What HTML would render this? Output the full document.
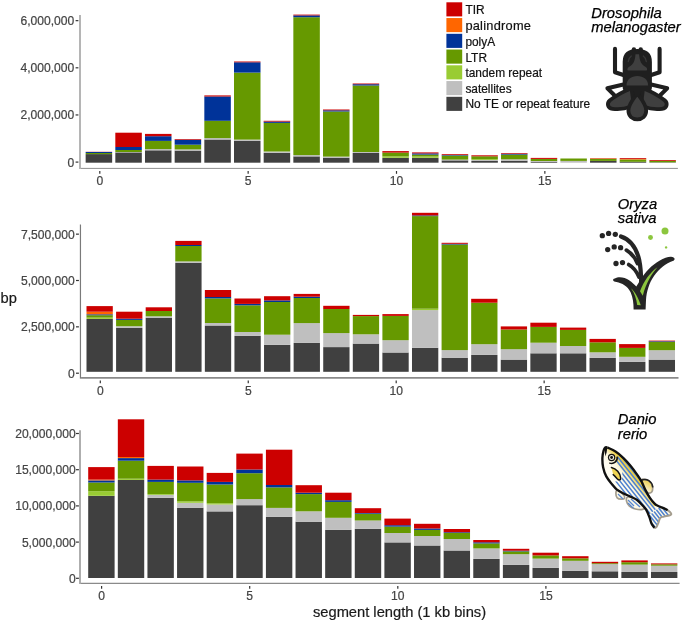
<!DOCTYPE html>
<html><head><meta charset="utf-8"><style>
html,body{margin:0;padding:0;background:#fff;width:685px;height:621px;overflow:hidden}
svg{display:block;will-change:transform}
text{font-family:"Liberation Sans",sans-serif}
.ax{font-size:12.1px;fill:#444;stroke:#444;stroke-width:0.2px}
.lg{font-size:11.9px;fill:#111;stroke:#111;stroke-width:0.2px}
.ti{font-size:14.7px;fill:#1a1a1a;stroke:#1a1a1a;stroke-width:0.2px}
.sp{font-size:14.75px;font-style:italic;fill:#000;stroke:#000;stroke-width:0.25px}
</style></head><body>
<svg width="685" height="621" viewBox="0 0 685 621">
<rect width="685" height="621" fill="#fff"/>
<rect x="85.65" y="154.1" width="26.5" height="8.6" fill="#404040"/>
<rect x="85.65" y="153" width="26.5" height="1.1" fill="#669900"/>
<rect x="85.65" y="152" width="26.5" height="1" fill="#003399"/>
<rect x="85.65" y="151.8" width="26.5" height="0.2" fill="#cc0000"/>
<rect x="115.32" y="152.4" width="26.5" height="10.3" fill="#404040"/>
<rect x="115.32" y="152" width="26.5" height="0.4" fill="#bfbfbf"/>
<rect x="115.32" y="150" width="26.5" height="2" fill="#669900"/>
<rect x="115.32" y="147" width="26.5" height="3" fill="#003399"/>
<rect x="115.32" y="132.7" width="26.5" height="14.3" fill="#cc0000"/>
<rect x="144.99" y="150.3" width="26.5" height="12.4" fill="#404040"/>
<rect x="144.99" y="149.1" width="26.5" height="1.2" fill="#bfbfbf"/>
<rect x="144.99" y="140.9" width="26.5" height="8.2" fill="#669900"/>
<rect x="144.99" y="136.2" width="26.5" height="4.7" fill="#003399"/>
<rect x="144.99" y="133.9" width="26.5" height="2.3" fill="#cc0000"/>
<rect x="174.66" y="150.6" width="26.5" height="12.1" fill="#404040"/>
<rect x="174.66" y="149.4" width="26.5" height="1.2" fill="#bfbfbf"/>
<rect x="174.66" y="144.7" width="26.5" height="4.7" fill="#669900"/>
<rect x="174.66" y="139.8" width="26.5" height="4.9" fill="#003399"/>
<rect x="174.66" y="139.1" width="26.5" height="0.7" fill="#cc0000"/>
<rect x="204.33" y="139.5" width="26.5" height="23.2" fill="#404040"/>
<rect x="204.33" y="138.1" width="26.5" height="1.4" fill="#bfbfbf"/>
<rect x="204.33" y="120.8" width="26.5" height="17.3" fill="#669900"/>
<rect x="204.33" y="96.5" width="26.5" height="24.3" fill="#003399"/>
<rect x="204.33" y="95.4" width="26.5" height="1.1" fill="#cc0000"/>
<rect x="234" y="140.9" width="26.5" height="21.8" fill="#404040"/>
<rect x="234" y="139.6" width="26.5" height="1.3" fill="#bfbfbf"/>
<rect x="234" y="72.6" width="26.5" height="67" fill="#669900"/>
<rect x="234" y="62.3" width="26.5" height="10.3" fill="#003399"/>
<rect x="234" y="61.5" width="26.5" height="0.8" fill="#cc0000"/>
<rect x="263.67" y="152.8" width="26.5" height="9.9" fill="#404040"/>
<rect x="263.67" y="151.5" width="26.5" height="1.3" fill="#bfbfbf"/>
<rect x="263.67" y="122.9" width="26.5" height="28.6" fill="#669900"/>
<rect x="263.67" y="121.6" width="26.5" height="1.3" fill="#003399"/>
<rect x="263.67" y="120.8" width="26.5" height="0.8" fill="#cc0000"/>
<rect x="293.34" y="156.4" width="26.5" height="6.3" fill="#404040"/>
<rect x="293.34" y="155.1" width="26.5" height="1.3" fill="#bfbfbf"/>
<rect x="293.34" y="17.2" width="26.5" height="137.9" fill="#669900"/>
<rect x="293.34" y="15.4" width="26.5" height="1.8" fill="#003399"/>
<rect x="293.34" y="14.6" width="26.5" height="0.8" fill="#cc0000"/>
<rect x="323.01" y="157.7" width="26.5" height="5" fill="#404040"/>
<rect x="323.01" y="156.6" width="26.5" height="1.1" fill="#bfbfbf"/>
<rect x="323.01" y="111.5" width="26.5" height="45.1" fill="#669900"/>
<rect x="323.01" y="110.3" width="26.5" height="1.2" fill="#003399"/>
<rect x="323.01" y="109.5" width="26.5" height="0.8" fill="#cc0000"/>
<rect x="352.68" y="153" width="26.5" height="9.7" fill="#404040"/>
<rect x="352.68" y="152" width="26.5" height="1" fill="#bfbfbf"/>
<rect x="352.68" y="85.5" width="26.5" height="66.5" fill="#669900"/>
<rect x="352.68" y="84.2" width="26.5" height="1.3" fill="#003399"/>
<rect x="352.68" y="83.5" width="26.5" height="0.7" fill="#cc0000"/>
<rect x="382.35" y="157.8" width="26.5" height="4.9" fill="#404040"/>
<rect x="382.35" y="156.4" width="26.5" height="1.4" fill="#99cc33"/>
<rect x="382.35" y="152.6" width="26.5" height="3.8" fill="#669900"/>
<rect x="382.35" y="151.1" width="26.5" height="1.5" fill="#cc0000"/>
<rect x="412.02" y="157.8" width="26.5" height="4.9" fill="#404040"/>
<rect x="412.02" y="156.5" width="26.5" height="1.3" fill="#99cc33"/>
<rect x="412.02" y="154.6" width="26.5" height="1.9" fill="#669900"/>
<rect x="412.02" y="153.4" width="26.5" height="1.2" fill="#003399"/>
<rect x="412.02" y="152.4" width="26.5" height="1" fill="#cc0000"/>
<rect x="441.69" y="160.4" width="26.5" height="2.3" fill="#404040"/>
<rect x="441.69" y="159.6" width="26.5" height="0.8" fill="#bfbfbf"/>
<rect x="441.69" y="155.5" width="26.5" height="4.1" fill="#669900"/>
<rect x="441.69" y="155" width="26.5" height="0.5" fill="#003399"/>
<rect x="441.69" y="154.2" width="26.5" height="0.8" fill="#cc0000"/>
<rect x="471.36" y="161" width="26.5" height="1.7" fill="#404040"/>
<rect x="471.36" y="160" width="26.5" height="1" fill="#bfbfbf"/>
<rect x="471.36" y="159.2" width="26.5" height="0.8" fill="#99cc33"/>
<rect x="471.36" y="156.3" width="26.5" height="2.9" fill="#669900"/>
<rect x="471.36" y="155.3" width="26.5" height="1" fill="#cc0000"/>
<rect x="501.03" y="160.7" width="26.5" height="2" fill="#404040"/>
<rect x="501.03" y="159.3" width="26.5" height="1.4" fill="#bfbfbf"/>
<rect x="501.03" y="154.6" width="26.5" height="4.7" fill="#669900"/>
<rect x="501.03" y="153.8" width="26.5" height="0.8" fill="#003399"/>
<rect x="501.03" y="153.1" width="26.5" height="0.7" fill="#cc0000"/>
<rect x="530.7" y="161.7" width="26.5" height="1" fill="#404040"/>
<rect x="530.7" y="161" width="26.5" height="0.7" fill="#bfbfbf"/>
<rect x="530.7" y="158.9" width="26.5" height="2.1" fill="#669900"/>
<rect x="530.7" y="157.9" width="26.5" height="1" fill="#cc0000"/>
<rect x="560.37" y="160.9" width="26.5" height="1.8" fill="#bfbfbf"/>
<rect x="560.37" y="158.5" width="26.5" height="2.4" fill="#669900"/>
<rect x="590.04" y="160.9" width="26.5" height="1.8" fill="#404040"/>
<rect x="590.04" y="158.8" width="26.5" height="2.1" fill="#669900"/>
<rect x="590.04" y="158.4" width="26.5" height="0.4" fill="#ff6600"/>
<rect x="590.04" y="158.1" width="26.5" height="0.3" fill="#cc0000"/>
<rect x="619.71" y="161.8" width="26.5" height="0.9" fill="#404040"/>
<rect x="619.71" y="159.5" width="26.5" height="2.3" fill="#669900"/>
<rect x="619.71" y="158.8" width="26.5" height="0.7" fill="#ff6600"/>
<rect x="619.71" y="158" width="26.5" height="0.8" fill="#cc0000"/>
<rect x="649.38" y="162.3" width="26.5" height="0.4" fill="#404040"/>
<rect x="649.38" y="160.9" width="26.5" height="1.4" fill="#669900"/>
<rect x="649.38" y="160.1" width="26.5" height="0.8" fill="#cc0000"/>
<rect x="86.5" y="318.9" width="26.3" height="52.9" fill="#404040"/>
<rect x="86.5" y="317.6" width="26.3" height="1.3" fill="#99cc33"/>
<rect x="86.5" y="315.2" width="26.3" height="2.4" fill="#669900"/>
<rect x="86.5" y="314.3" width="26.3" height="0.9" fill="#003399"/>
<rect x="86.5" y="311.7" width="26.3" height="2.6" fill="#ff6600"/>
<rect x="86.5" y="306.1" width="26.3" height="5.6" fill="#cc0000"/>
<rect x="116.09" y="327.9" width="26.3" height="43.9" fill="#404040"/>
<rect x="116.09" y="326.2" width="26.3" height="1.7" fill="#bfbfbf"/>
<rect x="116.09" y="319.9" width="26.3" height="6.3" fill="#669900"/>
<rect x="116.09" y="318.7" width="26.3" height="1.2" fill="#003399"/>
<rect x="116.09" y="311.7" width="26.3" height="7" fill="#cc0000"/>
<rect x="145.68" y="317.7" width="26.3" height="54.1" fill="#404040"/>
<rect x="145.68" y="316.3" width="26.3" height="1.4" fill="#bfbfbf"/>
<rect x="145.68" y="311" width="26.3" height="5.3" fill="#669900"/>
<rect x="145.68" y="307.3" width="26.3" height="3.7" fill="#cc0000"/>
<rect x="175.27" y="262.9" width="26.3" height="108.9" fill="#404040"/>
<rect x="175.27" y="261.4" width="26.3" height="1.5" fill="#bfbfbf"/>
<rect x="175.27" y="246" width="26.3" height="15.4" fill="#669900"/>
<rect x="175.27" y="245" width="26.3" height="1" fill="#003399"/>
<rect x="175.27" y="240.9" width="26.3" height="4.1" fill="#cc0000"/>
<rect x="204.86" y="325.5" width="26.3" height="46.3" fill="#404040"/>
<rect x="204.86" y="323" width="26.3" height="2.5" fill="#bfbfbf"/>
<rect x="204.86" y="298.4" width="26.3" height="24.6" fill="#669900"/>
<rect x="204.86" y="297" width="26.3" height="1.4" fill="#003399"/>
<rect x="204.86" y="290" width="26.3" height="7" fill="#cc0000"/>
<rect x="234.45" y="335.9" width="26.3" height="35.9" fill="#404040"/>
<rect x="234.45" y="332" width="26.3" height="3.9" fill="#bfbfbf"/>
<rect x="234.45" y="305.3" width="26.3" height="26.7" fill="#669900"/>
<rect x="234.45" y="303.9" width="26.3" height="1.4" fill="#003399"/>
<rect x="234.45" y="298.5" width="26.3" height="5.4" fill="#cc0000"/>
<rect x="264.04" y="344.8" width="26.3" height="27" fill="#404040"/>
<rect x="264.04" y="334.7" width="26.3" height="10.1" fill="#bfbfbf"/>
<rect x="264.04" y="302" width="26.3" height="32.7" fill="#669900"/>
<rect x="264.04" y="300.4" width="26.3" height="1.6" fill="#003399"/>
<rect x="264.04" y="296.2" width="26.3" height="4.2" fill="#cc0000"/>
<rect x="293.63" y="342.9" width="26.3" height="28.9" fill="#404040"/>
<rect x="293.63" y="323.1" width="26.3" height="19.8" fill="#bfbfbf"/>
<rect x="293.63" y="298" width="26.3" height="25.1" fill="#669900"/>
<rect x="293.63" y="296.7" width="26.3" height="1.3" fill="#003399"/>
<rect x="293.63" y="293.9" width="26.3" height="2.8" fill="#cc0000"/>
<rect x="323.22" y="347.1" width="26.3" height="24.7" fill="#404040"/>
<rect x="323.22" y="333.1" width="26.3" height="14" fill="#bfbfbf"/>
<rect x="323.22" y="309" width="26.3" height="24.1" fill="#669900"/>
<rect x="323.22" y="305.8" width="26.3" height="3.2" fill="#cc0000"/>
<rect x="352.81" y="343.6" width="26.3" height="28.2" fill="#404040"/>
<rect x="352.81" y="334.3" width="26.3" height="9.3" fill="#bfbfbf"/>
<rect x="352.81" y="316.1" width="26.3" height="18.2" fill="#669900"/>
<rect x="352.81" y="314.9" width="26.3" height="1.2" fill="#cc0000"/>
<rect x="382.4" y="352.5" width="26.3" height="19.3" fill="#404040"/>
<rect x="382.4" y="340.2" width="26.3" height="12.3" fill="#bfbfbf"/>
<rect x="382.4" y="315.9" width="26.3" height="24.3" fill="#669900"/>
<rect x="382.4" y="314.1" width="26.3" height="1.8" fill="#cc0000"/>
<rect x="411.99" y="347.8" width="26.3" height="24" fill="#404040"/>
<rect x="411.99" y="310.1" width="26.3" height="37.7" fill="#bfbfbf"/>
<rect x="411.99" y="308.7" width="26.3" height="1.4" fill="#99cc33"/>
<rect x="411.99" y="216.1" width="26.3" height="92.6" fill="#669900"/>
<rect x="411.99" y="215.4" width="26.3" height="0.7" fill="#003399"/>
<rect x="411.99" y="212.8" width="26.3" height="2.6" fill="#cc0000"/>
<rect x="441.58" y="357.7" width="26.3" height="14.1" fill="#404040"/>
<rect x="441.58" y="350.1" width="26.3" height="7.6" fill="#bfbfbf"/>
<rect x="441.58" y="244.5" width="26.3" height="105.6" fill="#669900"/>
<rect x="441.58" y="243.8" width="26.3" height="0.7" fill="#003399"/>
<rect x="441.58" y="242.8" width="26.3" height="1" fill="#cc0000"/>
<rect x="471.17" y="354.9" width="26.3" height="16.9" fill="#404040"/>
<rect x="471.17" y="344.2" width="26.3" height="10.7" fill="#bfbfbf"/>
<rect x="471.17" y="302.7" width="26.3" height="41.5" fill="#669900"/>
<rect x="471.17" y="298.8" width="26.3" height="3.9" fill="#cc0000"/>
<rect x="500.76" y="359.6" width="26.3" height="12.2" fill="#404040"/>
<rect x="500.76" y="349.2" width="26.3" height="10.4" fill="#bfbfbf"/>
<rect x="500.76" y="329.5" width="26.3" height="19.7" fill="#669900"/>
<rect x="500.76" y="326.4" width="26.3" height="3.1" fill="#cc0000"/>
<rect x="530.35" y="353.3" width="26.3" height="18.5" fill="#404040"/>
<rect x="530.35" y="342.7" width="26.3" height="10.6" fill="#bfbfbf"/>
<rect x="530.35" y="326.9" width="26.3" height="15.8" fill="#669900"/>
<rect x="530.35" y="322.7" width="26.3" height="4.2" fill="#cc0000"/>
<rect x="559.94" y="353.3" width="26.3" height="18.5" fill="#404040"/>
<rect x="559.94" y="346" width="26.3" height="7.3" fill="#bfbfbf"/>
<rect x="559.94" y="329.9" width="26.3" height="16.1" fill="#669900"/>
<rect x="559.94" y="327.6" width="26.3" height="2.3" fill="#cc0000"/>
<rect x="589.53" y="357.9" width="26.3" height="13.9" fill="#404040"/>
<rect x="589.53" y="352.3" width="26.3" height="5.6" fill="#bfbfbf"/>
<rect x="589.53" y="342.3" width="26.3" height="10" fill="#669900"/>
<rect x="589.53" y="338.9" width="26.3" height="3.4" fill="#cc0000"/>
<rect x="619.12" y="361.9" width="26.3" height="9.9" fill="#404040"/>
<rect x="619.12" y="356.8" width="26.3" height="5.1" fill="#bfbfbf"/>
<rect x="619.12" y="347.9" width="26.3" height="8.9" fill="#669900"/>
<rect x="619.12" y="344.1" width="26.3" height="3.8" fill="#cc0000"/>
<rect x="648.71" y="359.6" width="26.3" height="12.2" fill="#404040"/>
<rect x="648.71" y="350.2" width="26.3" height="9.4" fill="#bfbfbf"/>
<rect x="648.71" y="341.8" width="26.3" height="8.4" fill="#669900"/>
<rect x="648.71" y="341.2" width="26.3" height="0.6" fill="#003399"/>
<rect x="648.71" y="340.6" width="26.3" height="0.6" fill="#cc0000"/>
<rect x="88.2" y="495.8" width="26.4" height="82.2" fill="#404040"/>
<rect x="88.2" y="491.2" width="26.4" height="4.6" fill="#99cc33"/>
<rect x="88.2" y="482.5" width="26.4" height="8.7" fill="#669900"/>
<rect x="88.2" y="480.4" width="26.4" height="2.1" fill="#003399"/>
<rect x="88.2" y="479.6" width="26.4" height="0.8" fill="#ff6600"/>
<rect x="88.2" y="467.1" width="26.4" height="12.5" fill="#cc0000"/>
<rect x="117.82" y="479.9" width="26.4" height="98.1" fill="#404040"/>
<rect x="117.82" y="478.7" width="26.4" height="1.2" fill="#99cc33"/>
<rect x="117.82" y="460.7" width="26.4" height="18" fill="#669900"/>
<rect x="117.82" y="458.1" width="26.4" height="2.6" fill="#003399"/>
<rect x="117.82" y="457" width="26.4" height="1.1" fill="#ff6600"/>
<rect x="117.82" y="419.3" width="26.4" height="37.7" fill="#cc0000"/>
<rect x="147.44" y="497.8" width="26.4" height="80.2" fill="#404040"/>
<rect x="147.44" y="494.9" width="26.4" height="2.9" fill="#bfbfbf"/>
<rect x="147.44" y="494.1" width="26.4" height="0.8" fill="#99cc33"/>
<rect x="147.44" y="481.9" width="26.4" height="12.2" fill="#669900"/>
<rect x="147.44" y="479.6" width="26.4" height="2.3" fill="#003399"/>
<rect x="147.44" y="465.9" width="26.4" height="13.7" fill="#cc0000"/>
<rect x="177.06" y="507.7" width="26.4" height="70.3" fill="#404040"/>
<rect x="177.06" y="502.8" width="26.4" height="4.9" fill="#bfbfbf"/>
<rect x="177.06" y="501.3" width="26.4" height="1.5" fill="#99cc33"/>
<rect x="177.06" y="482.8" width="26.4" height="18.5" fill="#669900"/>
<rect x="177.06" y="480.4" width="26.4" height="2.4" fill="#003399"/>
<rect x="177.06" y="466.5" width="26.4" height="13.9" fill="#cc0000"/>
<rect x="206.68" y="511.4" width="26.4" height="66.6" fill="#404040"/>
<rect x="206.68" y="504.5" width="26.4" height="6.9" fill="#bfbfbf"/>
<rect x="206.68" y="503.3" width="26.4" height="1.2" fill="#99cc33"/>
<rect x="206.68" y="484.5" width="26.4" height="18.8" fill="#669900"/>
<rect x="206.68" y="481.9" width="26.4" height="2.6" fill="#003399"/>
<rect x="206.68" y="472.9" width="26.4" height="9" fill="#cc0000"/>
<rect x="236.3" y="505.2" width="26.4" height="72.8" fill="#404040"/>
<rect x="236.3" y="499.1" width="26.4" height="6.1" fill="#bfbfbf"/>
<rect x="236.3" y="473.2" width="26.4" height="25.9" fill="#669900"/>
<rect x="236.3" y="469.5" width="26.4" height="3.7" fill="#003399"/>
<rect x="236.3" y="453.6" width="26.4" height="15.9" fill="#cc0000"/>
<rect x="265.92" y="516.9" width="26.4" height="61.1" fill="#404040"/>
<rect x="265.92" y="507.9" width="26.4" height="9" fill="#bfbfbf"/>
<rect x="265.92" y="487.4" width="26.4" height="20.5" fill="#669900"/>
<rect x="265.92" y="485" width="26.4" height="2.4" fill="#003399"/>
<rect x="265.92" y="449.7" width="26.4" height="35.3" fill="#cc0000"/>
<rect x="295.54" y="521.7" width="26.4" height="56.3" fill="#404040"/>
<rect x="295.54" y="511.3" width="26.4" height="10.4" fill="#bfbfbf"/>
<rect x="295.54" y="494.1" width="26.4" height="17.2" fill="#669900"/>
<rect x="295.54" y="492.7" width="26.4" height="1.4" fill="#003399"/>
<rect x="295.54" y="485.2" width="26.4" height="7.5" fill="#cc0000"/>
<rect x="325.16" y="529.9" width="26.4" height="48.1" fill="#404040"/>
<rect x="325.16" y="517.8" width="26.4" height="12.1" fill="#bfbfbf"/>
<rect x="325.16" y="501.9" width="26.4" height="15.9" fill="#669900"/>
<rect x="325.16" y="500.2" width="26.4" height="1.7" fill="#003399"/>
<rect x="325.16" y="492.7" width="26.4" height="7.5" fill="#cc0000"/>
<rect x="354.78" y="528.9" width="26.4" height="49.1" fill="#404040"/>
<rect x="354.78" y="520.5" width="26.4" height="8.4" fill="#bfbfbf"/>
<rect x="354.78" y="513.7" width="26.4" height="6.8" fill="#669900"/>
<rect x="354.78" y="513" width="26.4" height="0.7" fill="#003399"/>
<rect x="354.78" y="508.2" width="26.4" height="4.8" fill="#cc0000"/>
<rect x="384.4" y="542.4" width="26.4" height="35.6" fill="#404040"/>
<rect x="384.4" y="533" width="26.4" height="9.4" fill="#bfbfbf"/>
<rect x="384.4" y="526.6" width="26.4" height="6.4" fill="#669900"/>
<rect x="384.4" y="525.2" width="26.4" height="1.4" fill="#003399"/>
<rect x="384.4" y="518.6" width="26.4" height="6.6" fill="#cc0000"/>
<rect x="414.02" y="545.5" width="26.4" height="32.5" fill="#404040"/>
<rect x="414.02" y="536" width="26.4" height="9.5" fill="#bfbfbf"/>
<rect x="414.02" y="529.9" width="26.4" height="6.1" fill="#669900"/>
<rect x="414.02" y="528.5" width="26.4" height="1.4" fill="#003399"/>
<rect x="414.02" y="523.8" width="26.4" height="4.7" fill="#cc0000"/>
<rect x="443.64" y="550.5" width="26.4" height="27.5" fill="#404040"/>
<rect x="443.64" y="539" width="26.4" height="11.5" fill="#bfbfbf"/>
<rect x="443.64" y="532.9" width="26.4" height="6.1" fill="#669900"/>
<rect x="443.64" y="532.2" width="26.4" height="0.7" fill="#003399"/>
<rect x="443.64" y="529" width="26.4" height="3.2" fill="#cc0000"/>
<rect x="473.26" y="558.9" width="26.4" height="19.1" fill="#404040"/>
<rect x="473.26" y="548.4" width="26.4" height="10.5" fill="#bfbfbf"/>
<rect x="473.26" y="543.4" width="26.4" height="5" fill="#669900"/>
<rect x="473.26" y="542.3" width="26.4" height="1.1" fill="#003399"/>
<rect x="473.26" y="540" width="26.4" height="2.3" fill="#cc0000"/>
<rect x="502.88" y="564.9" width="26.4" height="13.1" fill="#404040"/>
<rect x="502.88" y="554.2" width="26.4" height="10.7" fill="#bfbfbf"/>
<rect x="502.88" y="551.4" width="26.4" height="2.8" fill="#669900"/>
<rect x="502.88" y="550.7" width="26.4" height="0.7" fill="#003399"/>
<rect x="502.88" y="548.8" width="26.4" height="1.9" fill="#cc0000"/>
<rect x="532.5" y="567.8" width="26.4" height="10.2" fill="#404040"/>
<rect x="532.5" y="558.6" width="26.4" height="9.2" fill="#bfbfbf"/>
<rect x="532.5" y="555.4" width="26.4" height="3.2" fill="#669900"/>
<rect x="532.5" y="552.7" width="26.4" height="2.7" fill="#cc0000"/>
<rect x="562.12" y="570.9" width="26.4" height="7.1" fill="#404040"/>
<rect x="562.12" y="560.8" width="26.4" height="10.1" fill="#bfbfbf"/>
<rect x="562.12" y="558.3" width="26.4" height="2.5" fill="#669900"/>
<rect x="562.12" y="556.2" width="26.4" height="2.1" fill="#cc0000"/>
<rect x="591.74" y="571.3" width="26.4" height="6.7" fill="#404040"/>
<rect x="591.74" y="564.1" width="26.4" height="7.2" fill="#bfbfbf"/>
<rect x="591.74" y="563.2" width="26.4" height="0.9" fill="#669900"/>
<rect x="591.74" y="561.8" width="26.4" height="1.4" fill="#cc0000"/>
<rect x="621.36" y="572" width="26.4" height="6" fill="#404040"/>
<rect x="621.36" y="564.6" width="26.4" height="7.4" fill="#bfbfbf"/>
<rect x="621.36" y="562.2" width="26.4" height="2.4" fill="#669900"/>
<rect x="621.36" y="560.4" width="26.4" height="1.8" fill="#cc0000"/>
<rect x="650.98" y="572" width="26.4" height="6" fill="#404040"/>
<rect x="650.98" y="565.7" width="26.4" height="6.3" fill="#bfbfbf"/>
<rect x="650.98" y="564.3" width="26.4" height="1.4" fill="#669900"/>
<rect x="650.98" y="563.4" width="26.4" height="0.9" fill="#cc0000"/>
<line x1="80" y1="15" x2="80" y2="168.9" stroke="#b2b2b2" stroke-width="1.9"/>
<line x1="80.95" y1="168.4" x2="677.9" y2="168.4" stroke="#8e8e8e" stroke-width="1"/>
<line x1="75.6" y1="162.1" x2="78.4" y2="162.1" stroke="#333" stroke-width="1.2"/>
<text x="74.3" y="166.5" text-anchor="end" class="ax">0</text>
<line x1="75.6" y1="114.95" x2="78.4" y2="114.95" stroke="#333" stroke-width="1.2"/>
<text x="74.3" y="119.35" text-anchor="end" class="ax">2,000,000</text>
<line x1="75.6" y1="67.8" x2="78.4" y2="67.8" stroke="#333" stroke-width="1.2"/>
<text x="74.3" y="72.2" text-anchor="end" class="ax">4,000,000</text>
<line x1="75.6" y1="20.65" x2="78.4" y2="20.65" stroke="#333" stroke-width="1.2"/>
<text x="74.3" y="25.05" text-anchor="end" class="ax">6,000,000</text>
<line x1="99.8" y1="171" x2="99.8" y2="173.8" stroke="#333" stroke-width="1.2"/>
<text x="99.8" y="185.1" text-anchor="middle" class="ax">0</text>
<line x1="248.15" y1="171" x2="248.15" y2="173.8" stroke="#333" stroke-width="1.2"/>
<text x="248.15" y="185.1" text-anchor="middle" class="ax">5</text>
<line x1="396.5" y1="171" x2="396.5" y2="173.8" stroke="#333" stroke-width="1.2"/>
<text x="396.5" y="185.1" text-anchor="middle" class="ax">10</text>
<line x1="544.85" y1="171" x2="544.85" y2="173.8" stroke="#333" stroke-width="1.2"/>
<text x="544.85" y="185.1" text-anchor="middle" class="ax">15</text>
<line x1="80.45" y1="224.5" x2="80.45" y2="378.65" stroke="#7a7a7a" stroke-width="1.2"/>
<line x1="81.05" y1="377.85" x2="678.5" y2="377.85" stroke="#8a8a8a" stroke-width="1.6"/>
<line x1="76" y1="373.2" x2="78.9" y2="373.2" stroke="#333" stroke-width="1.2"/>
<text x="74.8" y="377.6" text-anchor="end" class="ax">0</text>
<line x1="76" y1="326.85" x2="78.9" y2="326.85" stroke="#333" stroke-width="1.2"/>
<text x="74.8" y="331.25" text-anchor="end" class="ax">2,500,000</text>
<line x1="76" y1="280.5" x2="78.9" y2="280.5" stroke="#333" stroke-width="1.2"/>
<text x="74.8" y="284.9" text-anchor="end" class="ax">5,000,000</text>
<line x1="76" y1="234.15" x2="78.9" y2="234.15" stroke="#333" stroke-width="1.2"/>
<text x="74.8" y="238.55" text-anchor="end" class="ax">7,500,000</text>
<line x1="100.3" y1="380.45" x2="100.3" y2="383.25" stroke="#333" stroke-width="1.2"/>
<text x="100.3" y="394.55" text-anchor="middle" class="ax">0</text>
<line x1="248.25" y1="380.45" x2="248.25" y2="383.25" stroke="#333" stroke-width="1.2"/>
<text x="248.25" y="394.55" text-anchor="middle" class="ax">5</text>
<line x1="396.2" y1="380.45" x2="396.2" y2="383.25" stroke="#333" stroke-width="1.2"/>
<text x="396.2" y="394.55" text-anchor="middle" class="ax">10</text>
<line x1="544.15" y1="380.45" x2="544.15" y2="383.25" stroke="#333" stroke-width="1.2"/>
<text x="544.15" y="394.55" text-anchor="middle" class="ax">15</text>
<line x1="80" y1="430.3" x2="80" y2="584.1" stroke="#9a9a9a" stroke-width="1.6"/>
<line x1="80.8" y1="583.4" x2="679.6" y2="583.4" stroke="#8a8a8a" stroke-width="1.4"/>
<line x1="76" y1="578.3" x2="78.9" y2="578.3" stroke="#333" stroke-width="1.2"/>
<text x="75.7" y="582.7" text-anchor="end" class="ax">0</text>
<line x1="76" y1="542.1" x2="78.9" y2="542.1" stroke="#333" stroke-width="1.2"/>
<text x="75.7" y="546.5" text-anchor="end" class="ax">5,000,000</text>
<line x1="76" y1="505.9" x2="78.9" y2="505.9" stroke="#333" stroke-width="1.2"/>
<text x="75.7" y="510.3" text-anchor="end" class="ax">10,000,000</text>
<line x1="76" y1="469.7" x2="78.9" y2="469.7" stroke="#333" stroke-width="1.2"/>
<text x="75.7" y="474.1" text-anchor="end" class="ax">15,000,000</text>
<line x1="76" y1="433.5" x2="78.9" y2="433.5" stroke="#333" stroke-width="1.2"/>
<text x="75.7" y="437.9" text-anchor="end" class="ax">20,000,000</text>
<line x1="101.6" y1="586" x2="101.6" y2="588.8" stroke="#333" stroke-width="1.2"/>
<text x="101.6" y="600.1" text-anchor="middle" class="ax">0</text>
<line x1="249.7" y1="586" x2="249.7" y2="588.8" stroke="#333" stroke-width="1.2"/>
<text x="249.7" y="600.1" text-anchor="middle" class="ax">5</text>
<line x1="397.8" y1="586" x2="397.8" y2="588.8" stroke="#333" stroke-width="1.2"/>
<text x="397.8" y="600.1" text-anchor="middle" class="ax">10</text>
<line x1="545.9" y1="586" x2="545.9" y2="588.8" stroke="#333" stroke-width="1.2"/>
<text x="545.9" y="600.1" text-anchor="middle" class="ax">15</text>
<rect x="446.4" y="2.3" width="15.8" height="14.1" fill="#cc0000"/>
<text x="465.4" y="14.4" class="lg">TIR</text>
<rect x="446.4" y="18.05" width="15.8" height="14.1" fill="#ff6600"/>
<text x="465.4" y="30.15" class="lg" style="font-size:12.8px;letter-spacing:0.25px">palindrome</text>
<rect x="446.4" y="33.8" width="15.8" height="14.1" fill="#003399"/>
<text x="465.4" y="45.9" class="lg">polyA</text>
<rect x="446.4" y="49.55" width="15.8" height="14.1" fill="#669900"/>
<text x="465.4" y="61.65" class="lg">LTR</text>
<rect x="446.4" y="65.3" width="15.8" height="14.1" fill="#99cc33"/>
<text x="465.4" y="77.4" class="lg">tandem repeat</text>
<rect x="446.4" y="81.05" width="15.8" height="14.1" fill="#bfbfbf"/>
<text x="465.4" y="93.15" class="lg">satellites</text>
<rect x="446.4" y="96.8" width="15.8" height="14.1" fill="#404040"/>
<text x="465.4" y="107.9" class="lg">No TE or repeat feature</text>
<text x="0.6" y="302.7" class="ti">bp</text>
<text x="399.5" y="616.6" text-anchor="middle" class="ti">segment length (1 kb bins)</text>
<text x="591.3" y="17.9" class="sp">Drosophila</text>
<text x="591.3" y="32.1" class="sp">melanogaster</text>
<text x="617.8" y="208.9" class="sp">Oryza</text>
<text x="617.8" y="222.8" class="sp">sativa</text>
<text x="617.8" y="424.4" class="sp">Danio</text>
<text x="617.8" y="438.5" class="sp">rerio</text>
<g stroke="#1f1f1f" stroke-linecap="round" stroke-linejoin="round">
<polyline points="615,48.9 615,72.2 625,75.5" fill="none" stroke-width="4.1"/>
<polyline points="659.6,48.9 659.6,72.2 649.6,75.5" fill="none" stroke-width="4.1"/>
<polyline points="624.5,84.2 607.4,88.3 614.2,95" fill="none" stroke-width="4"/>
<polyline points="650.1,84.2 667.2,88.3 660.4,95" fill="none" stroke-width="4"/>
<path d="M626,86 L648.6,86 L643.5,101 L631.1,101 Z" fill="#1f1f1f" stroke="none"/>
<path d="M631.5,88.3 C624,91.3 615,96.3 610,100.3 C606.5,103.3 607.5,108.2 612.5,108.8 C619,109.6 626,108.5 630.5,106.8 C632.5,105.8 633,103 633,100 Z" fill="#3f3f3f" stroke-width="3.8"/>
<path d="M643.1,88.3 C650.6,91.3 659.6,96.3 664.6,100.3 C668.1,103.3 667.1,108.2 662.1,108.8 C655.6,109.6 648.6,108.5 644.1,106.8 C642.1,105.8 641.6,103 641.6,100 Z" fill="#3f3f3f" stroke-width="3.8"/>
<path d="M637.3,93.6 C634,98 628.4,104.5 628.4,110.6 C628.4,116.2 632.5,119.3 637.3,119.3 C642.1,119.3 646.2,116.2 646.2,110.6 C646.2,104.5 640.6,98 637.3,93.6 Z" fill="#3f3f3f" stroke-width="3.8"/>
<path d="M622.7,74 L622.7,62 C622.7,53 628,49.1 637.3,49.1 C646.6,49.1 651.9,53 651.9,62 L651.9,87.5 Q651.9,91 648.5,91 L626.1,91 Q622.7,91 622.7,87.5 Z" fill="#1f1f1f" stroke="none"/>
<path d="M633.5,91 L641.1,91 L639.5,96.5 L635.1,96.5 Z" fill="#1f1f1f" stroke="none"/>
<circle cx="633.9" cy="49.5" r="2.2" fill="#1f1f1f" stroke="none"/>
<circle cx="640.7" cy="49.5" r="2.2" fill="#1f1f1f" stroke="none"/>
<path d="M635.5,54.3 L639.1,54.3 C639.6,61 641.2,64.5 645.3,66.8 C647.5,68 647.8,70.6 645.8,70.6 L628.8,70.6 C626.8,70.6 627.1,68 629.3,66.8 C633.4,64.5 635,61 635.5,54.3 Z" fill="#3f3f3f" stroke="none"/>
<path d="M626.5,85.6 C626.5,79.5 631.2,76.1 637.3,76.1 C643.4,76.1 648.1,79.5 648.1,85.6 Z" fill="#3f3f3f" stroke="none"/>
<path d="M628.3,61.5 Q629,57.5 631.3,56" fill="none" stroke="#383838" stroke-width="1.3"/>
<path d="M646.3,61.5 Q645.6,57.5 643.3,56" fill="none" stroke="#383838" stroke-width="1.3"/>
</g>

<g>
<g fill="#252525">
<circle cx="602.3" cy="235.7" r="2.65"/><circle cx="608.6" cy="233.4" r="2.65"/><circle cx="615.3" cy="234.3" r="2.65"/>
<circle cx="607.7" cy="249.6" r="2.65"/><circle cx="614.2" cy="246.9" r="2.65"/><circle cx="620.6" cy="247.7" r="2.65"/>
<circle cx="616" cy="263.5" r="2.65"/><circle cx="622.5" cy="262.6" r="2.65"/>
<path d="M614.8,278.5 C619,276 625,277.5 629.1,280.3 C632,282.5 634.5,284.5 636.3,286.5 L640.5,279.7 C645,272 652,265 659.4,260.7 C664,258 668,256.7 671,256.8 C675.5,257 675.5,260.5 672.7,261 C666,263.5 659.5,268 654,276 C649,283 646.5,292 646,300 L645.6,309.6 L633.6,309.6 C633.6,303 633,297.5 630.5,292 C627.5,286 622,283.2 616.5,282 C613,281.6 611.8,279.3 614.8,278.5 Z"/>
</g>
<g fill="none" stroke="#252525" stroke-linecap="round">
<path d="M621,236.4 C630,239.5 636.5,248 639.2,260 C641,269 641.5,278 641,290" stroke-width="4.2"/>
<path d="M626.4,250.2 C631,253 635,257 637.5,263.5" stroke-width="3.8"/>
<path d="M628.7,264.6 C633,267 636.5,271 639,277" stroke-width="3.8"/>
</g>
<g fill="#8cc63e">
<path d="M631,288.2 C634.5,291 638,297 640.8,305.3 L637.2,305 C636.5,299 634.5,293 631,288.2 Z"/>
<path d="M657.5,267.3 C652,273.5 646,283 642.8,295.8 L640,291.2 C644,281 650,272.5 657.5,267.3 Z"/>
<circle cx="665" cy="230.9" r="3.5"/><circle cx="650.5" cy="237.5" r="2.45"/><circle cx="666.1" cy="247.4" r="1.2"/>
</g>
</g>

<g>
<defs>
<linearGradient id="fg" gradientUnits="userSpaceOnUse" x1="637.04" y1="472.40" x2="622.96" y2="483.60">
<stop offset="0" stop-color="#e4be1a"/><stop offset="0.3" stop-color="#efd250"/><stop offset="0.5" stop-color="#f7e9a6"/><stop offset="0.62" stop-color="#fcf6dc"/><stop offset="1" stop-color="#fffdf2"/></linearGradient>
<linearGradient id="fg2" gradientUnits="userSpaceOnUse" x1="652" y1="481" x2="646" y2="492">
<stop offset="0" stop-color="#ecc93a"/><stop offset="1" stop-color="#fdf8e2"/></linearGradient>
<clipPath id="fc"><path d="M607.60,447.60 C609.30,448.28 612.90,449.80 615.50,451.50 C618.10,453.20 620.63,455.35 623.20,457.80 C625.77,460.25 628.58,463.40 630.90,466.20 C633.22,469.00 635.32,472.03 637.10,474.60 C638.88,477.17 640.25,479.10 641.60,481.60 C642.95,484.10 643.82,486.90 645.20,489.60 C646.58,492.30 648.33,495.47 649.90,497.80 C651.47,500.13 653.28,502.27 654.60,503.60 C655.92,504.93 656.52,505.13 657.80,505.80 C659.08,506.47 660.67,506.88 662.30,507.60 C663.93,508.32 666.15,509.17 667.60,510.10 C669.05,511.03 670.53,512.35 671.00,513.20 C671.47,514.05 671.57,514.63 670.40,515.20 C669.23,515.77 665.70,516.13 664.00,516.60 C662.30,517.07 661.13,516.97 660.20,518.00 C659.27,519.03 659.03,521.27 658.40,522.80 C657.77,524.33 657.07,526.38 656.40,527.20 C655.73,528.02 655.20,528.27 654.40,527.70 C653.60,527.13 652.42,525.53 651.60,523.80 C650.78,522.07 650.37,519.57 649.50,517.30 C648.63,515.03 647.52,512.15 646.40,510.20 C645.28,508.25 644.35,507.30 642.80,505.60 C641.25,503.90 639.02,501.43 637.10,500.00 C635.18,498.57 633.38,498.00 631.30,497.00 C629.22,496.00 627.00,495.23 624.60,494.00 C622.20,492.77 619.03,491.27 616.90,489.60 C614.77,487.93 613.57,486.20 611.80,484.00 C610.03,481.80 607.75,479.20 606.30,476.40 C604.85,473.60 603.75,470.28 603.10,467.20 C602.45,464.12 602.32,460.67 602.40,457.90 C602.48,455.13 603.12,452.35 603.60,450.60 C604.08,448.85 604.63,447.90 605.30,447.40 C605.97,446.90 605.90,446.92 607.60,447.60 Z"/></clipPath>
<clipPath id="fs"><path d="M618,440 L618,455 L616.6,463 L619.5,466.5 L622.3,472 L622.3,478 L619.5,481.2 L615,481.6 L611.5,486 L611.5,500 L700,560 L700,440 Z"/></clipPath>
<clipPath id="fa"><path d="M617.40,490.20 C616.15,490.03 615.93,492.33 615.90,493.60 C615.87,494.87 616.32,496.87 617.20,497.80 C618.08,498.73 619.97,499.13 621.20,499.20 C622.43,499.27 624.23,498.97 624.60,498.20 C624.97,497.43 624.60,495.93 623.40,494.60 C622.20,493.27 618.65,490.37 617.40,490.20 Z"/><path d="M627.40,497.20 C626.27,497.73 626.27,499.90 626.60,501.40 C626.93,502.90 627.93,504.93 629.40,506.20 C630.87,507.47 633.20,508.47 635.40,509.00 C637.60,509.53 641.07,509.73 642.60,509.40 C644.13,509.07 644.97,508.23 644.60,507.00 C644.23,505.77 642.27,503.47 640.40,502.00 C638.53,500.53 635.57,499.00 633.40,498.20 C631.23,497.40 628.53,496.67 627.40,497.20 Z"/></clipPath>
</defs>
<path d="M641.20,480.40 C641.15,478.53 643.70,479.32 645.00,479.40 C646.30,479.48 647.87,480.10 649.00,480.90 C650.13,481.70 651.18,482.95 651.80,484.20 C652.42,485.45 652.72,487.10 652.70,488.40 C652.68,489.70 652.28,491.20 651.70,492.00 C651.12,492.80 650.00,493.15 649.20,493.20 C648.40,493.25 647.55,492.73 646.90,492.30 C646.25,491.87 646.25,492.58 645.30,490.60 C644.35,488.62 641.25,482.27 641.20,480.40 Z" fill="url(#fg2)" stroke="#a49d8e" stroke-width="1.7"/>
<path d="M641.2,480.6 C643,479.2 646.5,479.3 648.8,480.6 C650.8,481.8 652.2,484 652.7,486.8" fill="none" stroke="#222" stroke-width="1.6" stroke-linecap="round"/>
<path d="M617.40,490.20 C616.15,490.03 615.93,492.33 615.90,493.60 C615.87,494.87 616.32,496.87 617.20,497.80 C618.08,498.73 619.97,499.13 621.20,499.20 C622.43,499.27 624.23,498.97 624.60,498.20 C624.97,497.43 624.60,495.93 623.40,494.60 C622.20,493.27 618.65,490.37 617.40,490.20 Z" fill="#fdf9e6" stroke="#a49d8e" stroke-width="1.7"/>
<path d="M627.40,497.20 C626.27,497.73 626.27,499.90 626.60,501.40 C626.93,502.90 627.93,504.93 629.40,506.20 C630.87,507.47 633.20,508.47 635.40,509.00 C637.60,509.53 641.07,509.73 642.60,509.40 C644.13,509.07 644.97,508.23 644.60,507.00 C644.23,505.77 642.27,503.47 640.40,502.00 C638.53,500.53 635.57,499.00 633.40,498.20 C631.23,497.40 628.53,496.67 627.40,497.20 Z" fill="#fdf9e6" stroke="#a49d8e" stroke-width="1.7"/>
<g clip-path="url(#fa)" stroke="#5585d0" stroke-width="1.3">
<line x1="618" y1="494" x2="623" y2="499"/><line x1="628" y1="500" x2="634" y2="506"/><line x1="631" y1="499" x2="640" y2="507"/><line x1="628" y1="503" x2="634" y2="509"/>
</g>
<path d="M607.60,447.60 C609.30,448.28 612.90,449.80 615.50,451.50 C618.10,453.20 620.63,455.35 623.20,457.80 C625.77,460.25 628.58,463.40 630.90,466.20 C633.22,469.00 635.32,472.03 637.10,474.60 C638.88,477.17 640.25,479.10 641.60,481.60 C642.95,484.10 643.82,486.90 645.20,489.60 C646.58,492.30 648.33,495.47 649.90,497.80 C651.47,500.13 653.28,502.27 654.60,503.60 C655.92,504.93 656.52,505.13 657.80,505.80 C659.08,506.47 660.67,506.88 662.30,507.60 C663.93,508.32 666.15,509.17 667.60,510.10 C669.05,511.03 670.53,512.35 671.00,513.20 C671.47,514.05 671.57,514.63 670.40,515.20 C669.23,515.77 665.70,516.13 664.00,516.60 C662.30,517.07 661.13,516.97 660.20,518.00 C659.27,519.03 659.03,521.27 658.40,522.80 C657.77,524.33 657.07,526.38 656.40,527.20 C655.73,528.02 655.20,528.27 654.40,527.70 C653.60,527.13 652.42,525.53 651.60,523.80 C650.78,522.07 650.37,519.57 649.50,517.30 C648.63,515.03 647.52,512.15 646.40,510.20 C645.28,508.25 644.35,507.30 642.80,505.60 C641.25,503.90 639.02,501.43 637.10,500.00 C635.18,498.57 633.38,498.00 631.30,497.00 C629.22,496.00 627.00,495.23 624.60,494.00 C622.20,492.77 619.03,491.27 616.90,489.60 C614.77,487.93 613.57,486.20 611.80,484.00 C610.03,481.80 607.75,479.20 606.30,476.40 C604.85,473.60 603.75,470.28 603.10,467.20 C602.45,464.12 602.32,460.67 602.40,457.90 C602.48,455.13 603.12,452.35 603.60,450.60 C604.08,448.85 604.63,447.90 605.30,447.40 C605.97,446.90 605.90,446.92 607.60,447.60 Z" fill="url(#fg)"/>
<path d="M657.80,505.80 C660.45,505.37 660.67,506.88 662.30,507.60 C663.93,508.32 666.15,509.17 667.60,510.10 C669.05,511.03 670.53,512.35 671.00,513.20 C671.47,514.05 671.57,514.63 670.40,515.20 C669.23,515.77 665.70,516.13 664.00,516.60 C662.30,517.07 661.13,516.97 660.20,518.00 C659.27,519.03 659.03,521.27 658.40,522.80 C657.77,524.33 657.07,526.38 656.40,527.20 C655.73,528.02 655.20,528.27 654.40,527.70 C653.60,527.13 652.42,525.53 651.60,523.80 C650.78,522.07 650.37,519.57 649.50,517.30 C648.63,515.03 645.02,512.12 646.40,510.20 C647.78,508.28 655.15,506.23 657.80,505.80 Z" fill="#fdf9e8"/>
<g clip-path="url(#fc)"><g clip-path="url(#fs)" stroke="#4f82d0" stroke-width="1.5" stroke-linecap="round">
<line x1="602.58" y1="464.55" x2="644.60" y2="517.37"/>
<line x1="605.16" y1="462.49" x2="647.18" y2="515.32"/>
<line x1="607.74" y1="460.44" x2="649.76" y2="513.27"/>
<line x1="610.32" y1="458.39" x2="652.34" y2="511.21"/>
<line x1="612.91" y1="456.33" x2="654.93" y2="509.16"/>
<line x1="615.49" y1="454.28" x2="653.77" y2="502.41"/>
<line x1="618.07" y1="452.22" x2="656.36" y2="500.35"/>
<line x1="645.21" y1="519.44" x2="659.22" y2="537.05"/>
<line x1="647.52" y1="517.60" x2="661.53" y2="535.21"/>
<line x1="649.83" y1="515.76" x2="663.84" y2="533.37"/>
<line x1="652.14" y1="513.93" x2="666.15" y2="531.54"/>
<line x1="654.45" y1="512.09" x2="668.46" y2="529.70"/>
<line x1="656.76" y1="510.26" x2="670.76" y2="527.86"/>
<line x1="659.07" y1="508.42" x2="673.07" y2="526.03"/>
<line x1="661.38" y1="506.58" x2="675.38" y2="524.19"/>
</g></g>
<path d="M662.30,507.60 C663.18,508.02 666.15,509.17 667.60,510.10 C669.05,511.03 670.53,512.35 671.00,513.20 C671.47,514.05 671.57,514.63 670.40,515.20 C669.23,515.77 665.70,516.13 664.00,516.60 C662.30,517.07 661.13,516.97 660.20,518.00 C659.27,519.03 659.03,521.27 658.40,522.80 C657.77,524.33 657.07,526.38 656.40,527.20 C655.73,528.02 655.20,528.27 654.40,527.70 C653.60,527.13 652.07,524.45 651.60,523.80" fill="none" stroke="#a49d8e" stroke-width="1.9"/>
<path d="M607.60,447.60 C608.92,448.25 612.90,449.80 615.50,451.50 C618.10,453.20 620.63,455.35 623.20,457.80 C625.77,460.25 628.58,463.40 630.90,466.20 C633.22,469.00 635.32,472.03 637.10,474.60 C638.88,477.17 640.25,479.10 641.60,481.60 C642.95,484.10 643.82,486.90 645.20,489.60 C646.58,492.30 648.33,495.47 649.90,497.80 C651.47,500.13 653.28,502.27 654.60,503.60 C655.92,504.93 656.52,505.13 657.80,505.80 C659.08,506.47 660.67,506.88 662.30,507.60 C663.93,508.32 666.72,509.68 667.60,510.10" fill="none" stroke="#111" stroke-width="2.35" stroke-linejoin="round"/>
<path d="M654.40,527.70 C653.93,527.05 652.42,525.53 651.60,523.80 C650.78,522.07 650.37,519.57 649.50,517.30 C648.63,515.03 647.52,512.15 646.40,510.20 C645.28,508.25 644.35,507.30 642.80,505.60 C641.25,503.90 639.02,501.43 637.10,500.00 C635.18,498.57 633.38,498.00 631.30,497.00 C629.22,496.00 627.00,495.23 624.60,494.00 C622.20,492.77 619.03,491.27 616.90,489.60 C614.77,487.93 613.57,486.20 611.80,484.00 C610.03,481.80 607.75,479.20 606.30,476.40 C604.85,473.60 603.75,470.28 603.10,467.20 C602.45,464.12 602.32,460.67 602.40,457.90 C602.48,455.13 603.12,452.35 603.60,450.60 C604.08,448.85 604.63,447.90 605.30,447.40 C605.97,446.90 607.22,447.57 607.60,447.60" fill="none" stroke="#111" stroke-width="2.35" stroke-linejoin="round"/>
<path d="M604.4,447.2 L607.4,447.2 L606.6,452.5 L605.4,456.5 Z" fill="#111"/>
<circle cx="611.6" cy="457.5" r="3.7" fill="#111"/>
<circle cx="611.6" cy="457.5" r="2.5" fill="#efece0"/>
<circle cx="611.6" cy="457.5" r="1.4" fill="#111"/>
<path d="M609.3,462.9 A5.6,5.6 0 0 0 617.1,456.6" fill="none" stroke="#111" stroke-width="1.5"/>
<path d="M611.4,467.4 C616.2,468.4 620.4,473.2 620.7,478.0 C620.8,480.6 618.8,480.6 617.2,478.8 C615.5,476.8 614.5,475.5 613.2,474.6" fill="#efd452" stroke="#111" stroke-width="1.5" stroke-linecap="round"/>
</g>
</svg>
</body></html>
